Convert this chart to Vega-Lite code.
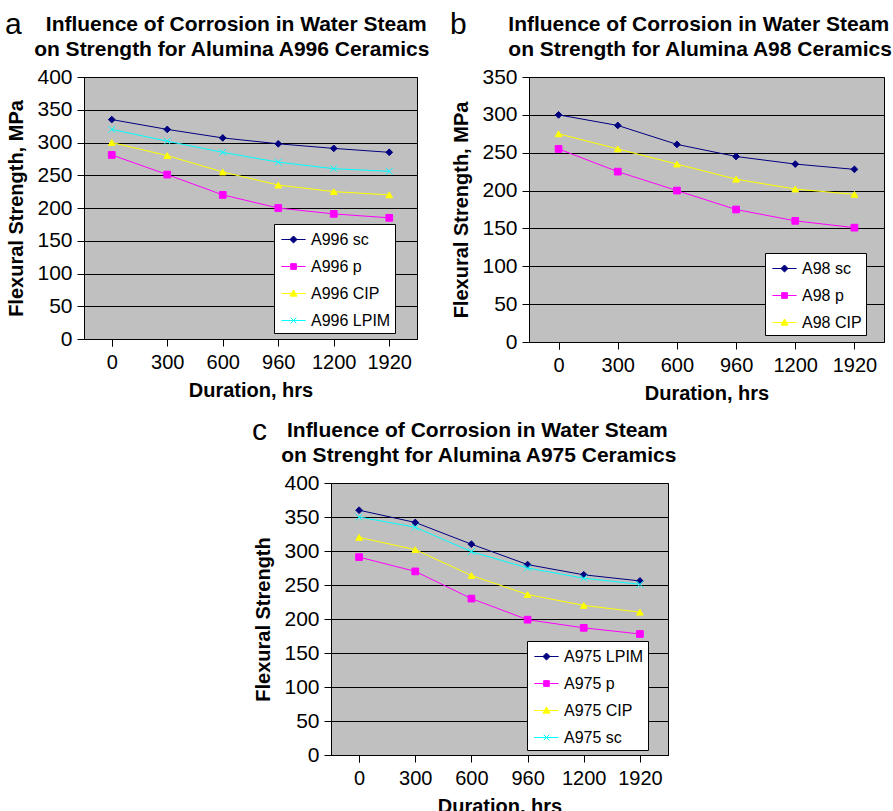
{
  "$schema": "https://vega.github.io/schema/vega-lite/v6.json",
  "background": "white",
  "padding": {"left": 4, "top": 9, "right": 0, "bottom": 0},
  "datasets": {
    "a": [
      {"series": "A996 sc", "duration": 0, "strength": 335},
      {"series": "A996 sc", "duration": 300, "strength": 320},
      {"series": "A996 sc", "duration": 600, "strength": 307},
      {"series": "A996 sc", "duration": 960, "strength": 298},
      {"series": "A996 sc", "duration": 1200, "strength": 291},
      {"series": "A996 sc", "duration": 1920, "strength": 285},
      {"series": "A996 p", "duration": 0, "strength": 281},
      {"series": "A996 p", "duration": 300, "strength": 251},
      {"series": "A996 p", "duration": 600, "strength": 220},
      {"series": "A996 p", "duration": 960, "strength": 200},
      {"series": "A996 p", "duration": 1200, "strength": 191},
      {"series": "A996 p", "duration": 1920, "strength": 185},
      {"series": "A996 CIP", "duration": 0, "strength": 300},
      {"series": "A996 CIP", "duration": 300, "strength": 280},
      {"series": "A996 CIP", "duration": 600, "strength": 255},
      {"series": "A996 CIP", "duration": 960, "strength": 235},
      {"series": "A996 CIP", "duration": 1200, "strength": 225},
      {"series": "A996 CIP", "duration": 1920, "strength": 220},
      {"series": "A996 LPIM", "duration": 0, "strength": 320},
      {"series": "A996 LPIM", "duration": 300, "strength": 302},
      {"series": "A996 LPIM", "duration": 600, "strength": 285},
      {"series": "A996 LPIM", "duration": 960, "strength": 270},
      {"series": "A996 LPIM", "duration": 1200, "strength": 260},
      {"series": "A996 LPIM", "duration": 1920, "strength": 256}
    ],
    "b": [
      {"series": "A98 sc", "duration": 0, "strength": 300},
      {"series": "A98 sc", "duration": 300, "strength": 286},
      {"series": "A98 sc", "duration": 600, "strength": 261},
      {"series": "A98 sc", "duration": 960, "strength": 245},
      {"series": "A98 sc", "duration": 1200, "strength": 235},
      {"series": "A98 sc", "duration": 1920, "strength": 228},
      {"series": "A98 p", "duration": 0, "strength": 255},
      {"series": "A98 p", "duration": 300, "strength": 225},
      {"series": "A98 p", "duration": 600, "strength": 200},
      {"series": "A98 p", "duration": 960, "strength": 175},
      {"series": "A98 p", "duration": 1200, "strength": 160},
      {"series": "A98 p", "duration": 1920, "strength": 151},
      {"series": "A98 CIP", "duration": 0, "strength": 275},
      {"series": "A98 CIP", "duration": 300, "strength": 255},
      {"series": "A98 CIP", "duration": 600, "strength": 235},
      {"series": "A98 CIP", "duration": 960, "strength": 215},
      {"series": "A98 CIP", "duration": 1200, "strength": 202},
      {"series": "A98 CIP", "duration": 1920, "strength": 195}
    ],
    "c": [
      {"series": "A975 LPIM", "duration": 0, "strength": 360},
      {"series": "A975 LPIM", "duration": 300, "strength": 342},
      {"series": "A975 LPIM", "duration": 600, "strength": 310},
      {"series": "A975 LPIM", "duration": 960, "strength": 280},
      {"series": "A975 LPIM", "duration": 1200, "strength": 265},
      {"series": "A975 LPIM", "duration": 1920, "strength": 256},
      {"series": "A975 p", "duration": 0, "strength": 291},
      {"series": "A975 p", "duration": 300, "strength": 270},
      {"series": "A975 p", "duration": 600, "strength": 230},
      {"series": "A975 p", "duration": 960, "strength": 199},
      {"series": "A975 p", "duration": 1200, "strength": 187},
      {"series": "A975 p", "duration": 1920, "strength": 178},
      {"series": "A975 CIP", "duration": 0, "strength": 320},
      {"series": "A975 CIP", "duration": 300, "strength": 302},
      {"series": "A975 CIP", "duration": 600, "strength": 264},
      {"series": "A975 CIP", "duration": 960, "strength": 236},
      {"series": "A975 CIP", "duration": 1200, "strength": 220},
      {"series": "A975 CIP", "duration": 1920, "strength": 210},
      {"series": "A975 sc", "duration": 0, "strength": 350},
      {"series": "A975 sc", "duration": 300, "strength": 335},
      {"series": "A975 sc", "duration": 600, "strength": 299},
      {"series": "A975 sc", "duration": 960, "strength": 275},
      {"series": "A975 sc", "duration": 1200, "strength": 260},
      {"series": "A975 sc", "duration": 1920, "strength": 251}
    ]
  },
  "vconcat": [
    {
      "hconcat": [
        {
          "data": {"name": "a"},
          "width": 333,
          "height": 262,
          "title": {
            "text": "a",
            "subtitle": ["\u200b\u00a0\u00a0\u00a0\u00a0\u00a0\u00a0\u00a0Influence of Corrosion in Water Steam", "\u200b\u00a0\u00a0\u00a0\u00a0\u00a0on Strength for Alumina A996 Ceramics"]
          },
          "encoding": {
            "x": {"field": "duration", "type": "ordinal", "title": "Duration, hrs"},
            "y": {"field": "strength", "type": "quantitative", "title": "Flexural Strength, MPa", "scale": {"domain": [0, 400], "nice": false}, "axis": {"values": [0, 50, 100, 150, 200, 250, 300, 350, 400]}},
            "color": {
              "field": "series", "type": "nominal",
              "scale": {"domain": ["A996 sc", "A996 p", "A996 CIP", "A996 LPIM"], "range": ["#000080", "#ff00ff", "#ffff00", "#00ffff"]},
              "legend": {
                "title": null, "legendX": 190, "legendY": 147,
                "encode": {"symbols": {"update": {
                  "shape": {"signal": "datum.value === 'A996 sc' ? 'M-1.1,0H1.1M0,-0.32L0.32,0L0,0.32L-0.32,0Z' : datum.value === 'A996 p' ? 'M-1.1,0H1.1M-0.26,-0.26H0.26V0.26H-0.26Z' : datum.value === 'A996 CIP' ? 'M-1.1,0H1.1M0,-0.32L0.32,0.24H-0.32Z' : 'M-1.1,0H1.1M-0.26,-0.26L0.26,0.26M-0.26,0.26L0.26,-0.26'"},
                  "strokeWidth": {"value": 1},
                  "opacity": {"value": 1}
                }}}
              }
            }
          },
          "layer": [
            {"mark": {"type": "line", "strokeWidth": 1}},
            {
              "mark": {"type": "point", "filled": true, "size": 45, "strokeWidth": 1, "opacity": 1},
              "encoding": {
                "shape": {"field": "series", "type": "nominal", "legend": null, "scale": {"domain": ["A996 LPIM", "A996 CIP", "A996 p", "A996 sc"], "range": ["M-1,-1L1,1M-1,1L1,-1", "triangle-up", "square", "diamond"]}},
                "stroke": {"field": "series", "type": "nominal", "legend": null, "scale": {"domain": ["A996 LPIM", "A996 CIP", "A996 p", "A996 sc"], "range": ["#00ffff", "#ffff00", "#ff00ff", "#000080"]}}
              }
            }
          ]
        },
        {
          "data": {"name": "b"},
          "width": 355,
          "height": 265,
          "title": {
            "text": "b",
            "subtitle": ["\u200b\u00a0\u00a0\u00a0\u00a0\u00a0\u00a0\u00a0\u00a0\u00a0\u00a0Influence of Corrosion in Water Steam", "\u200b\u00a0\u00a0\u00a0\u00a0\u00a0\u00a0\u00a0\u00a0\u00a0\u00a0on Strength for Alumina A98 Ceramics"]
          },
          "encoding": {
            "x": {"field": "duration", "type": "ordinal", "title": "Duration, hrs"},
            "y": {"field": "strength", "type": "quantitative", "title": "Flexural Strength, MPa", "scale": {"domain": [0, 350], "nice": false}, "axis": {"values": [0, 50, 100, 150, 200, 250, 300, 350]}},
            "color": {
              "field": "series", "type": "nominal",
              "scale": {"domain": ["A98 sc", "A98 p", "A98 CIP"], "range": ["#000080", "#ff00ff", "#ffff00"]},
              "legend": {
                "title": null, "legendX": 236, "legendY": 176,
                "encode": {"symbols": {"update": {
                  "shape": {"signal": "datum.value === 'A98 sc' ? 'M-1.1,0H1.1M0,-0.32L0.32,0L0,0.32L-0.32,0Z' : datum.value === 'A98 p' ? 'M-1.1,0H1.1M-0.26,-0.26H0.26V0.26H-0.26Z' : 'M-1.1,0H1.1M0,-0.32L0.32,0.24H-0.32Z'"},
                  "strokeWidth": {"value": 1},
                  "opacity": {"value": 1}
                }}}
              }
            }
          },
          "layer": [
            {"mark": {"type": "line", "strokeWidth": 1}},
            {
              "mark": {"type": "point", "filled": true, "size": 45, "strokeWidth": 1, "opacity": 1},
              "encoding": {
                "shape": {"field": "series", "type": "nominal", "legend": null, "scale": {"domain": ["A98 CIP", "A98 p", "A98 sc"], "range": ["triangle-up", "square", "diamond"]}},
                "stroke": {"field": "series", "type": "nominal", "legend": null, "scale": {"domain": ["A98 CIP", "A98 p", "A98 sc"], "range": ["#ffff00", "#ff00ff", "#000080"]}}
              }
            }
          ]
        }
      ],
      "spacing": 17,
      "resolve": {"scale": {"color": "independent", "shape": "independent", "stroke": "independent", "x": "independent", "y": "independent"}, "legend": {"color": "independent"}}
    },
    {
      "hconcat": [
        {
          "width": 167,
          "height": 10,
          "data": {"values": []},
          "mark": {"type": "point"},
          "view": {"stroke": null, "fill": null}
        },
        {
          "data": {"name": "c"},
          "width": 337,
          "height": 272,
          "title": {
            "text": "c",
            "subtitle": ["\u200b\u00a0\u00a0\u00a0\u00a0\u00a0\u00a0Influence of Corrosion in Water Steam", "\u200b\u00a0\u00a0\u00a0\u00a0\u00a0on Strenght for Alumina A975 Ceramics"]
          },
          "encoding": {
            "x": {"field": "duration", "type": "ordinal", "title": "Duration, hrs"},
            "y": {"field": "strength", "type": "quantitative", "title": "Flexural Strength", "scale": {"domain": [0, 400], "nice": false}, "axis": {"values": [0, 50, 100, 150, 200, 250, 300, 350, 400]}},
            "color": {
              "field": "series", "type": "nominal",
              "scale": {"domain": ["A975 LPIM", "A975 p", "A975 CIP", "A975 sc"], "range": ["#000080", "#ff00ff", "#ffff00", "#00ffff"]},
              "legend": {
                "title": null, "legendX": 196, "legendY": 158,
                "encode": {"symbols": {"update": {
                  "shape": {"signal": "datum.value === 'A975 LPIM' ? 'M-1.1,0H1.1M0,-0.32L0.32,0L0,0.32L-0.32,0Z' : datum.value === 'A975 p' ? 'M-1.1,0H1.1M-0.26,-0.26H0.26V0.26H-0.26Z' : datum.value === 'A975 CIP' ? 'M-1.1,0H1.1M0,-0.32L0.32,0.24H-0.32Z' : 'M-1.1,0H1.1M-0.26,-0.26L0.26,0.26M-0.26,0.26L0.26,-0.26'"},
                  "strokeWidth": {"value": 1},
                  "opacity": {"value": 1}
                }}}
              }
            }
          },
          "layer": [
            {"mark": {"type": "line", "strokeWidth": 1}},
            {
              "mark": {"type": "point", "filled": true, "size": 45, "strokeWidth": 1, "opacity": 1},
              "encoding": {
                "shape": {"field": "series", "type": "nominal", "legend": null, "scale": {"domain": ["A975 sc", "A975 CIP", "A975 p", "A975 LPIM"], "range": ["M-1,-1L1,1M-1,1L1,-1", "triangle-up", "square", "diamond"]}},
                "stroke": {"field": "series", "type": "nominal", "legend": null, "scale": {"domain": ["A975 sc", "A975 CIP", "A975 p", "A975 LPIM"], "range": ["#00ffff", "#ffff00", "#ff00ff", "#000080"]}}
              }
            }
          ]
        }
      ],
      "spacing": 0,
      "resolve": {"scale": {"color": "independent", "shape": "independent", "stroke": "independent", "x": "independent", "y": "independent"}, "legend": {"color": "independent"}}
    }
  ],
  "spacing": 11,
  "resolve": {"scale": {"color": "independent", "shape": "independent", "stroke": "independent", "x": "independent", "y": "independent"}, "legend": {"color": "independent"}},
  "config": {
    "font": "Liberation Sans",
    "view": {"fill": "#c0c0c0", "stroke": "black", "strokeWidth": 1},
    "scale": {"bandPaddingInner": 0, "bandPaddingOuter": 0},
    "title": {
      "font": "Liberation Sans", "fontSize": 30, "fontWeight": "normal", "color": "black",
      "anchor": "start", "dx": -2,
      "subtitleFont": "Liberation Sans", "subtitleFontSize": 21, "subtitleFontWeight": "bold", "subtitleColor": "black",
      "subtitleLineHeight": 25, "subtitlePadding": -26, "offset": 6
    },
    "axis": {
      "labelFont": "Liberation Sans", "labelFontSize": 20, "labelColor": "black",
      "titleFont": "Liberation Sans", "titleFontSize": 20, "titleFontWeight": "bold", "titleColor": "black",
      "domainColor": "black", "tickColor": "black", "tickSize": 7, "domainWidth": 1, "tickWidth": 1
    },
    "axisY": {"grid": true, "gridColor": "black", "gridWidth": 1, "labelPadding": 5, "titlePadding": 10, "labelFontSize": 21},
    "axisX": {"grid": false, "tickBand": "extent", "labelPadding": 6, "titlePadding": 8, "labelAngle": 0},
    "legend": {
      "orient": "none", "fillColor": "white", "strokeColor": "black", "padding": 4,
      "labelFont": "Liberation Sans", "labelFontSize": 16, "labelColor": "black",
      "symbolSize": 484, "rowPadding": 7, "symbolOffset": 4, "labelOffset": 6, "symbolStrokeWidth": 1
    }
  }
}
